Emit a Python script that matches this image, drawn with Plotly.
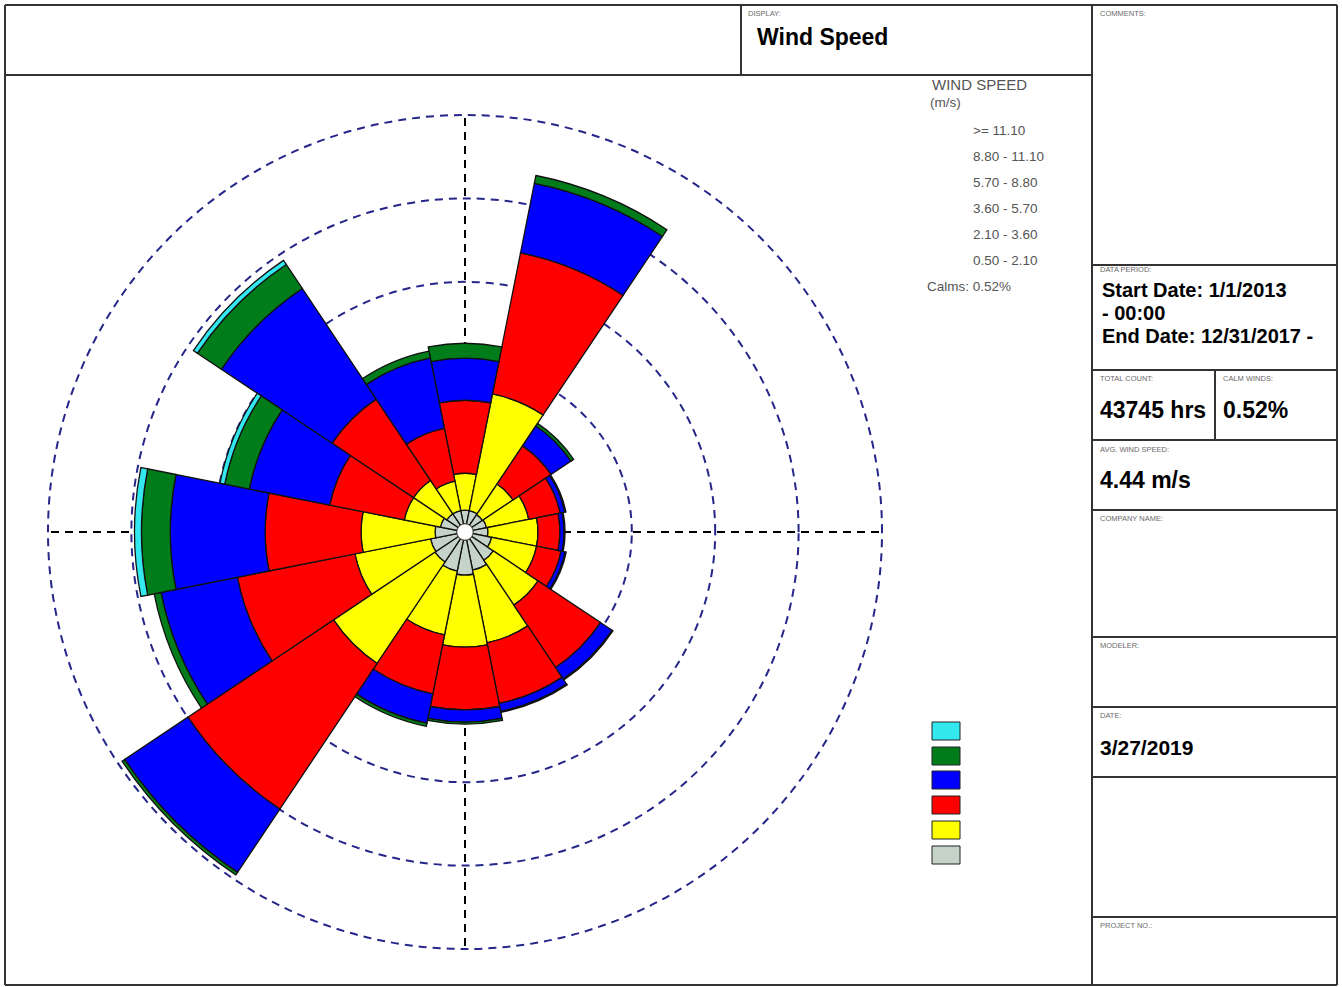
import numpy as np
import plotly.graph_objects as go

# ---------------- data ----------------
directions = ["N", "NNE", "NE", "ENE", "E", "ESE", "SE", "SSE",
              "S", "SSW", "SW", "WSW", "W", "WNW", "NW", "NNW"]
theta_deg = [0, 22.5, 45, 67.5, 90, 112.5, 135, 157.5,
             180, 202.5, 225, 247.5, 270, 292.5, 315, 337.5]

speed_bins = ["0.50 - 2.10", "2.10 - 3.60", "3.60 - 5.70",
              "5.70 - 8.80", "8.80 - 11.10", ">= 11.10"]

# frequency (%) per direction for each wind-speed class
freq_050_210 = [0.40, 0.40, 0.37, 0.40, 0.43, 0.55, 0.75, 0.89,
                1.01, 0.92, 0.81, 0.78, 0.63, 0.49, 0.40, 0.40]
freq_210_360 = [1.06, 3.42, 1.06, 1.24, 1.44, 1.32, 1.55, 2.13,
                2.07, 1.87, 3.51, 2.22, 2.13, 1.06, 1.15, 0.86]
freq_360_570 = [2.10, 4.14, 1.32, 0.92, 0.63, 0.72, 2.16, 1.78,
                1.81, 1.73, 5.04, 3.45, 2.76, 2.19, 2.82, 1.55]
freq_570_880 = [1.21, 2.04, 0.69, 0.14, 0.12, 0.12, 0.40, 0.23,
                0.35, 0.86, 2.19, 2.24, 2.73, 2.36, 3.83, 2.07]
freq_880_1110 = [0.43, 0.23, 0.09, 0.03, 0.03, 0.03, 0.03, 0.03,
                 0.06, 0.09, 0.09, 0.20, 0.83, 0.72, 0.83, 0.20]
freq_ge_1110 = [0.0, 0.0, 0.0, 0.0, 0.0, 0.0, 0.0, 0.0,
                0.0, 0.0, 0.0, 0.0, 0.20, 0.14, 0.14, 0.0]

ring_values = [2.4, 4.8, 7.2, 9.6, 12.0]
calm_pct = 0.52
total_count = 43745
avg_speed = 4.44

# ---------------- styles ----------------
bin_colors = ["#c5d3c9", "#ffff00", "#ff0000", "#0000ff", "#007d1a", "#33e8ee"]
CALM_R = 0.23          # radius of the calm circle (radial units)
R_MAX = 12.05          # radial range end (just beyond the last ring)
W, H = 1342, 987
CX, CY, RPX = 465, 532, 417 * 12.05 / 12.0   # polar centre / radius in px


def px(x):
    return x / W


def py(y):
    return 1 - y / H


series = [freq_050_210, freq_210_360, freq_360_570,
          freq_570_880, freq_880_1110, freq_ge_1110]

fig = go.Figure()
base = np.full(len(directions), CALM_R)
for vals, col, name in zip(series, bin_colors, speed_bins):
    v = np.array(vals)
    fig.add_trace(go.Barpolar(
        r=v, theta=theta_deg, base=base, width=22.5,
        marker=dict(color=col, line=dict(color="#111111", width=1.3)),
        name=name, customdata=directions,
        hovertemplate="%{customdata}: %{r:.2f}%<extra>" + name + "</extra>",
        showlegend=False,
    ))
    base = base + v

# calm circle in the centre
circ_t = np.linspace(0, 360, 73)
fig.add_trace(go.Scatterpolar(
    r=[CALM_R] * len(circ_t), theta=circ_t, mode="lines",
    fill="toself", fillcolor="white",
    line=dict(color="#666666", width=1), hoverinfo="skip", showlegend=False))

fig.update_layout(
    width=W, height=H,
    margin=dict(l=0, r=0, t=0, b=0),
    paper_bgcolor="white",
    showlegend=False,
    polar=dict(
        domain=dict(x=[px(CX - RPX), px(CX + RPX)],
                    y=[py(CY + RPX), py(CY - RPX)]),
        bgcolor="white",
        barmode="overlay",
        radialaxis=dict(range=[0, R_MAX], tickvals=ring_values,
                        showticklabels=False, ticks="", showline=False,
                        gridcolor="#26268a", gridwidth=1.6, griddash="8px,6px",
                        layer="below traces"),
        angularaxis=dict(rotation=90, direction="clockwise",
                         tickvals=[0, 90, 180, 270], showticklabels=False,
                         ticks="", showline=False,
                         gridcolor="#000000", gridwidth=1.8, griddash="8px,6px",
                         layer="below traces"),
    ),
)

# ---------------- frame ----------------
shapes = []
lc = dict(color="#333333", width=2)


def hline(y, x0, x1):
    shapes.append(dict(type="line", xref="paper", yref="paper",
                       x0=px(x0), x1=px(x1), y0=py(y), y1=py(y), line=lc))


def vline(x, y0, y1):
    shapes.append(dict(type="line", xref="paper", yref="paper",
                       x0=px(x), x1=px(x), y0=py(y0), y1=py(y1), line=lc))


hline(5, 5, 1337)
hline(985, 5, 1337)
vline(5, 5, 985)
vline(1337, 5, 985)
hline(75, 5, 1092)
vline(741, 5, 75)
vline(1092, 5, 985)
for yy in [265, 370, 440, 510, 637, 707, 777, 917]:
    hline(yy, 1092, 1337)
vline(1215, 370, 440)

# legend swatches
sw_top = [722, 747, 771, 796, 821, 846]
for col, t in zip(bin_colors[::-1], sw_top):
    shapes.append(dict(type="rect", xref="paper", yref="paper",
                       x0=px(932), x1=px(960), y0=py(t + 18), y1=py(t),
                       fillcolor=col, line=dict(color="#222222", width=1)))
fig.update_layout(shapes=shapes)

# ---------------- texts ----------------
FONT = "Liberation Sans, Arial, sans-serif"
ann = []


def text(x, y, s, size, color="#000000", bold=False):
    if bold:
        s = "<b>" + s + "</b>"
    ann.append(dict(xref="paper", yref="paper", x=px(x), y=py(y), text=s,
                    showarrow=False, xanchor="left", yanchor="top",
                    font=dict(family=FONT, size=size, color=color),
                    borderpad=0))


small = 7.5
gray = "#6a6a6a"
text(747, 8, "DISPLAY:", small, gray)
text(756, 23, "Wind Speed", 23, bold=True)
text(1099, 8, "COMMENTS:", small, gray)
text(1099, 264, "DATA PERIOD:", small, gray)
text(1101, 278, "Start Date: 1/1/2013", 20, bold=True)
text(1101, 301, "- 00:00", 20, bold=True)
text(1101, 324, "End Date: 12/31/2017 -", 20, bold=True)
text(1099, 373, "TOTAL COUNT:", small, gray)
text(1222, 373, "CALM WINDS:", small, gray)
text(1099, 396, f"{total_count} hrs", 23, bold=True)
text(1222, 396, f"{calm_pct:.2f}%", 23, bold=True)
text(1099, 444, "AVG. WIND SPEED:", small, gray)
text(1099, 466, f"{avg_speed:.2f} m/s", 23, bold=True)
text(1099, 513, "COMPANY NAME:", small, gray)
text(1099, 640, "MODELER:", small, gray)
text(1099, 710, "DATE:", small, gray)
text(1099, 735, "3/27/2019", 21, bold=True)
text(1099, 920, "PROJECT NO.:", small, gray)

lg = "#555555"
text(931, 75, "WIND SPEED", 15, lg)
text(929, 94, "(m/s)", 13.5, lg)
for i, lab in enumerate(speed_bins[::-1]):
    text(972, 122 + 26 * i, lab, 13.5, lg)
text(926, 278, f"Calms: {calm_pct:.2f}%", 13.5, lg)

fig.update_layout(annotations=ann)
fig.write_html("out.html")
